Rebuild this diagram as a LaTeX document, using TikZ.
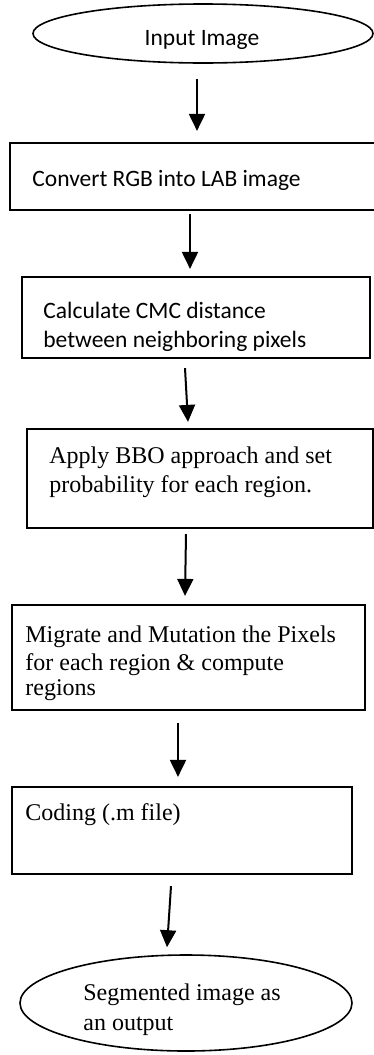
\documentclass[tikz,border=0pt]{standalone}
\usepackage{fontspec}
\setmainfont{Liberation Serif}
\newfontfamily\calib{Carlito}
\usetikzlibrary{arrows.meta,shapes.geometric,fit,calc}

\begin{document}
\begin{tikzpicture}[x=0.5pt,y=-0.5pt,
  stepbox/.style={draw, line width=1.1pt, inner sep=0pt},
  oval/.style={draw, ellipse, line width=0.8pt, inner sep=0pt},
  flow/.style={line width=1pt, -{Triangle[width=8pt,length=8.5pt]}},
  sanstxt/.style={font=\calib\fontsize{11.75}{14}\selectfont, inner sep=0pt},
  seriftxt/.style={font=\fontsize{12}{14}\selectfont, inner sep=0pt}]
\useasboundingbox (0,0) rectangle (374,1055);
\clip (0,0) rectangle (374,1055);

% terminals
\node[oval, minimum width=170pt, minimum height=29.5pt] (in) at (203,33.5) {};
\node[oval, minimum width=166pt, minimum height=48pt] (out) at (186,1003) {};

% process boxes
\node[stepbox, fit={(10,143) (376,210)}] (b1) {};
\node[stepbox, fit={(22,277) (370,358)}] (b2) {};
\node[stepbox, fit={(27,429) (373,528)}] (b3) {};
\node[stepbox, fit={(12,605) (365,710)}] (b4) {};
\node[stepbox, fit={(12,787) (352,874)}] (b5) {};

% labels
\node[sanstxt, anchor=base] (tin) at (202,45) {Input Image};
\node[sanstxt, anchor=base west] (t1) at (32,186) {Convert RGB into LAB image};
\node[sanstxt, anchor=base west] (t2a) at (43,318) {Calculate CMC distance};
\node[sanstxt, anchor=base west] (t2b) at (43,347) {between neighboring pixels};
\node[seriftxt, anchor=base west] (t3a) at (49,463) {Apply BBO approach and set};
\node[seriftxt, anchor=base west] (t3b) at (49,492) {probability for each region.};
\node[seriftxt, anchor=base west] (t4a) at (25,642) {Migrate and Mutation the Pixels};
\node[seriftxt, anchor=base west] (t4b) at (25,670) {for each region \& compute};
\node[seriftxt, anchor=base west] (t4c) at (25,695) {regions};
\node[seriftxt, anchor=base west] (t5) at (25,820) {Coding (.m file)};
\node[seriftxt, anchor=base west] (touta) at (83,1000) {Segmented image as};
\node[seriftxt, anchor=base west] (toutb) at (83,1030) {an output};

% flow arrows
\draw[flow] ($(in.south)+(-6,15)$) -- ($(b1.north)+(4,-11)$);
\draw[flow] ($(b1.south)+(-3,3)$) -- ($(b2.north)+(-6,-7)$);
\draw[flow] ($(b2.south)+(-11,9)$) -- ($(b3.north)+(-12,-6)$);
\draw[flow] ($(b3.south)+(-14,5)$) -- ($(b4.north)+(-3.5,-8)$);
\draw[flow] ($(b4.south)+(-10.5,12)$) -- ($(b5.north)+(-4,-9)$);
\draw[flow] ($(b5.south)+(-11,11)$) -- ($(out.north)+(-19,-7)$);
\end{tikzpicture}
\end{document}
